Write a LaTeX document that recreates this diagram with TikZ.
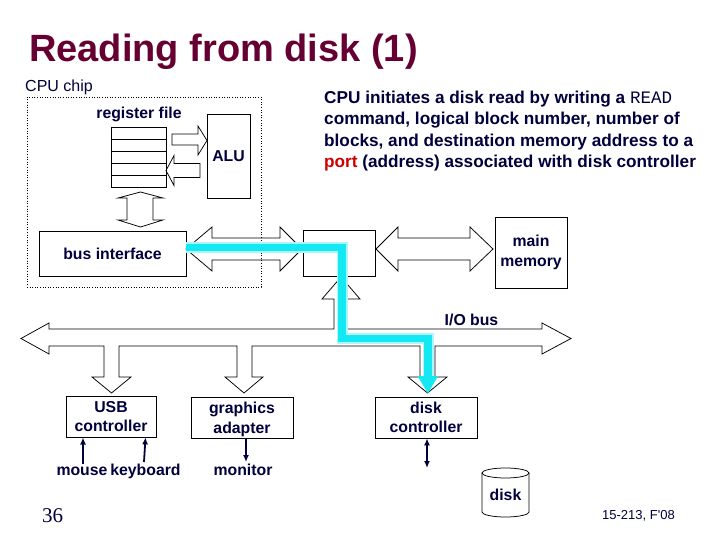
\documentclass[tikz,border=0pt]{standalone}
\usepackage{fontspec}
\setmainfont{Liberation Sans}
\newfontfamily\myserif{Liberation Serif}
\newfontfamily\mymono{Liberation Mono}
\usetikzlibrary{arrows.meta}
\definecolor{ink}{RGB}{0,0,60}
\definecolor{titlered}{RGB}{102,0,51}
\definecolor{portred}{RGB}{204,0,0}
\definecolor{hilite}{RGB}{20,232,242}
\newcommand\mylblf{\fontsize{15.8}{19.5}\selectfont\bfseries}
\newcommand\myexplf{\fontsize{17.2}{21.5}\selectfont\bfseries}
\newcommand\mytitlef{\fontsize{38}{40}\selectfont\bfseries}
\begin{document}
\begin{tikzpicture}[x=1pt,y=-1pt,
  outl/.style={draw=black,line width=0.75pt,line join=miter},
  box/.style={outl,inner sep=0pt,align=center,text=ink,font=\mylblf},
  lbl/.style={text=ink,font=\mylblf,inner sep=0pt,anchor=base},
  sig/.style={draw=ink,line width=1.8pt,-{Latex[length=7pt,width=6pt]}},
  sigboth/.style={draw=ink,line width=1.8pt,{Latex[length=7pt,width=6pt]}-{Latex[length=7pt,width=6pt]}},
  expl/.style={text=ink,font=\myexplf,inner sep=0pt,anchor=base west},
]
\fill[white] (0,0) rectangle (720,540);
\useasboundingbox (0,0) rectangle (720,540);

% title
\node[anchor=base west,inner sep=0pt,text=titlered,font=\mytitlef] (title) at (29,62) {Reading from disk (1)};

% explanation
\node[expl] (e1) at (324,103.5) {CPU initiates a disk read by writing a {\mymono\mdseries\fontsize{17.5}{21}\selectfont READ}};
\node[expl] (e2) at (324,125) {command, logical block number, number of};
\node[expl] (e3) at (324,146.5) {blocks, and destination memory address to a};
\node[expl] (e4) at (324,168) {{\color{portred}port} (address) associated with disk controller};

% CPU chip
\node[anchor=base west,inner sep=0pt,text=ink,font=\fontsize{16}{19}\selectfont] (chiplbl) at (25,92) {CPU chip};
\node[draw=black,dotted,line width=0.6pt,minimum width=234pt,minimum height=190pt,inner sep=0pt] (chip) at (144,192) {};

% register file
\node[lbl] (reglbl) at (139,119) {register file};
\node[outl,minimum width=55pt,minimum height=60pt,inner sep=0pt] (regs) at (138.5,157) {};
\foreach \yy in {139,151,163,175}
  \draw[outl] (regs.west |- 0,\yy) -- (regs.east |- 0,\yy);

% ALU
\node[box,minimum width=43pt,minimum height=84pt] (alu) at (228.5,156) {ALU};

% arrows reg <-> ALU
\draw[outl] (172,134) -- (198,134) -- (198,126) -- (207,140.5) -- (198,155) -- (198,145) -- (172,145) -- cycle;
\draw[outl] (200,163.5) -- (174,163.5) -- (174,155.5) -- (166,170.5) -- (174,185.5) -- (174,177.5) -- (200,177.5) -- cycle;

% reg <-> bus interface
\draw[outl] (140.5,192) -- (163,198) -- (153,198) -- (153,220) -- (163,220) -- (140.5,227)
  -- (118,220) -- (127,220) -- (127,198) -- (118,198) -- cycle;

% bus interface
\node[box,minimum width=147pt,minimum height=45pt] (busif) at (112.5,253.5) {bus interface};

% system bus double arrow
\draw[outl] (186,249) -- (212,227) -- (212,238) -- (280,238) -- (280,227) -- (302,249)
  -- (280,271) -- (280,260) -- (212,260) -- (212,271) -- cycle;

% I/O bridge
\node[box,minimum width=72pt,minimum height=46pt] (bridge) at (339,253) {};

% memory bus double arrow
\draw[outl] (376,249) -- (398,227) -- (398,238) -- (470,238) -- (470,227) -- (493,249)
  -- (470,271) -- (470,260) -- (398,260) -- (398,271) -- cycle;

% main memory
\node[box,minimum width=72pt,minimum height=71pt] (mem) at (531,252.5) {main\\memory};

% I/O bus with branches
\draw[outl] (21,338.5) -- (49,323) -- (49,329) -- (334,329) -- (334,299) -- (322,299) -- (341,277)
  -- (360,299) -- (347,299) -- (347,329) -- (542,329) -- (542,323) -- (571,338.5) -- (542,354)
  -- (542,346) -- (435,346) -- (435,377) -- (447,377) -- (427.5,393) -- (408,377) -- (420,377)
  -- (420,346) -- (252,346) -- (252,377) -- (263,377) -- (244,393) -- (225,377) -- (237,377)
  -- (237,346) -- (119,346) -- (119,377) -- (131,377) -- (111.5,393) -- (92,377) -- (104,377)
  -- (104,346) -- (49,346) -- (49,354) -- cycle;
\node[lbl] (iolbl) at (471.5,325) {I/O bus};

% controllers
\node[box,minimum width=90pt,minimum height=41pt] (usb) at (111,416.5) {USB\\controller};
\node[box,minimum width=102pt,minimum height=41pt] (gfx) at (242,417.5) {};
\node[text=ink,font=\mylblf,inner sep=0pt,align=center] (gfxlbl) at (242,419.5) {graphics\\adapter};
\node[box,minimum width=102pt,minimum height=41pt] (dc) at (426,417.5) {disk\\controller};

% devices
\node[lbl] (mouse) at (82,475) {mouse};
\node[lbl] (kbd) at (145.5,475) {keyboard};
\node[lbl] (mon) at (243,475) {monitor};
\draw[sig] (mouse.north -| 83,0) ++(0,-2) -- (83,437.5);
\draw[sig] (144,462) -- (kbd.north |- usb.south);
\draw[sig] (gfx.south -| 246,0) -- (246,462);
\coordinate (dcend) at (427,468);
\draw[sigboth] (dc.south -| dcend) -- (dcend);

% disk cylinder
\draw[outl] (482,473) -- (482,512) arc[start angle=180,end angle=360,x radius=23.5pt,y radius=5pt] -- (529,473);
\draw[outl] (505.5,473) ellipse[x radius=23.5pt,y radius=5pt];
\node[lbl] (disk) at (505.5,500.5) {disk};

% footer
\node[anchor=base,inner sep=0pt,text=ink,font=\myserif\fontsize{21}{24}\selectfont] (pg) at (52.5,522) {36};
\node[anchor=base,inner sep=0pt,text=ink,font=\fontsize{13}{15}\selectfont] (course) at (638.5,519) {15-213, F\textquotesingle08};

% highlighted path
\coordinate (c1) at (342,247.5);
\coordinate (c2) at (342,338.5);
\coordinate (c3) at (428,338.5);
\coordinate (c4) at (428,378);
\draw[hilite!35,line width=11pt,line join=miter] ([yshift=6pt]busif.east) -- (c1) -- (c2) -- (c3) -- (c4);
\draw[hilite,line width=7.5pt,line join=miter] ([yshift=6pt]busif.east) -- (c1) -- (c2) -- (c3) -- (c4);
\fill[hilite] (417.5,376) -- (438,376) -- (428,393.5) -- cycle;
\end{tikzpicture}
\end{document}
